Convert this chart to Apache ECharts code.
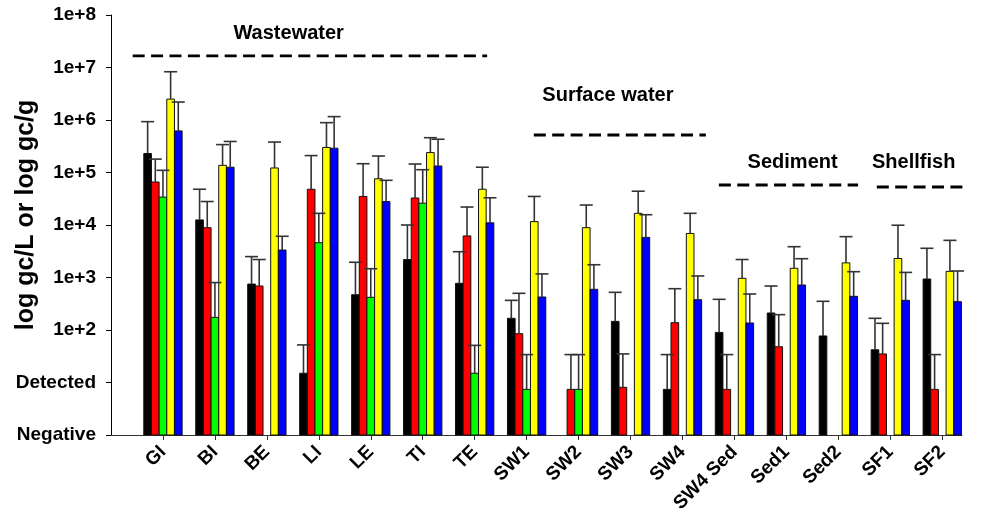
<!DOCTYPE html>
<html>
<head>
<meta charset="utf-8">
<script src="https://cdn.jsdelivr.net/npm/echarts@6/dist/echarts.min.js"></script>
<style>html,body{margin:0;padding:0;background:#fff}#c{width:986px;height:519px}</style>
</head>
<body>
<div id="c"></div>
<script>
// ---- data ----
const categories = ['GI','BI','BE','LI','LE','TI','TE','SW1','SW2','SW3','SW4','SW4 Sed','Sed1','Sed2','SF1','SF2'];
const seriesColors = ['#000000','#ff0000','#00ff00','#ffff00','#0000ff'];
const blackVals = [2.3e5,1.25e4,750,15,470,2200,775,167,null,146,7.4,90,211,77,42,936];
const blackErr  = [9.3e5,4.8e4,2500,52,1950,1.0e4,3100,367,null,522,34,384,689,352,167,3600];
const redVals   = [6.6e4,8.9e3,690,4.8e4,3.5e4,3.27e4,6.2e3,85,7.4,8.1,138,7.4,48,null,35,7.4];
const redErr    = [1.8e5,2.8e4,2200,2.1e5,1.47e5,1.45e5,2.2e4,500,34,35,612,34,196,null,134,34];
const greenVals = [3.4e4,174,null,4.6e3,419,2.6e4,15,7.4,7.4,null,null,null,null,null,null,null];
const greenErr  = [1.1e5,800,null,1.67e4,1470,1.13e5,51,34,34,null,null,null,null,null,null,null];
const yellowVals= [2.5e6,1.37e5,1.22e5,3.0e5,7.6e4,2.4e5,4.8e4,1.16e4,8.9e3,1.67e4,6.9e3,965,1.5e3,1.9e3,2.3e3,1.31e3];
const yellowErr = [8.3e6,3.4e5,3.8e5,8.9e5,2.06e5,4.6e5,1.26e5,3.5e4,2.4e4,4.4e4,1.67e4,2.2e3,3.86e3,6.0e3,9.9e3,5.1e3];
const blueVals  = [6.2e5,1.26e5,3.34e3,2.9e5,2.8e4,1.33e5,1.1e4,425,596,5.8e3,378,136,720,438,367,347];
const blueErr   = [2.2e6,3.9e5,6.1e3,1.16e6,7.1e4,4.3e5,3.3e4,1170,1750,1.57e4,1070,485,2280,1290,1250,1330];
const yTickLabels = {0:'Negative',1:'Detected',2:'1e+2',3:'1e+3',4:'1e+4',5:'1e+5',6:'1e+6',7:'1e+7',8:'1e+8'};
// annotation group labels, text anchor [x, y], dashed line [x1, x2, y]
const groupNames = ['Wastewater','Surface water','Sediment','Shellfish'];
const groupText  = [[2.42,4.35e7],[8.565,2.99e6],[12.12,1.58e5],[14.45,1.58e5]];
const groupLines = [[-0.583,6.24,1.66e7],[7.138,10.45,5.18e5],[10.70,13.38,5.78e4],[13.74,15.46,5.3e4]];

const vals = [blackVals, redVals, greenVals, yellowVals, blueVals];
const errs = [blackErr, redErr, greenErr, yellowErr, blueErr];
const BW = 0.1475;
const FONT = 'Liberation Sans, Arial, sans-serif';

function mkData(s){ return categories.map((c,i)=>[i, vals[s][i]==null?NaN:vals[s][i], errs[s][i]==null?NaN:errs[s][i]]); }

function barRender(s){
  return function(params, api){
    const x = api.value(0), v = api.value(1);
    if (isNaN(v)) return;
    const cx = x + (s-2)*BW;
    const top = api.coord([cx, v]);
    const base = api.coord([cx, 1]);
    const l = api.coord([cx-BW/2, v])[0], r = api.coord([cx+BW/2, v])[0];
    return {type:'rect', shape:{x:l, y:top[1], width:r-l, height:base[1]-top[1]},
      style:{fill:seriesColors[s], stroke:'#111', lineWidth:1}};
  };
}
function errRender(s){
  return function(params, api){
    const x = api.value(0), v = api.value(1), e = api.value(2);
    if (isNaN(v) || isNaN(e)) return;
    const cx = x + (s-2)*BW;
    const top = api.coord([cx, v]);
    const up = api.coord([cx, e]);
    const st = {stroke:'#333', lineWidth:1.6};
    return {type:'group', children:[
      {type:'line', shape:{x1:top[0], y1:top[1], x2:up[0], y2:up[1]}, style:st},
      {type:'line', shape:{x1:up[0]-6.5, y1:up[1], x2:up[0]+6.5, y2:up[1]}, style:st}
    ]};
  };
}

const series = [];
for (let s=0;s<5;s++) series.push({type:'custom', renderItem:barRender(s), data:mkData(s), encode:{x:0,y:1}, z:2, silent:true});
for (let s=0;s<5;s++) series.push({type:'custom', renderItem:errRender(s), data:mkData(s), encode:{x:0,y:[1,2]}, z:3, silent:true});
groupLines.forEach(g=>{
  series.push({type:'line', data:[[g[0],g[2]],[g[1],g[2]]], symbol:'none', clip:false, silent:true,
    lineStyle:{color:'#000', width:2.8, type:[12,6.4]}, z:4});
});
series.push({type:'custom', silent:true, clip:false, z:5,
  data: groupNames.map((n,i)=>[groupText[i][0], groupText[i][1], i]),
  encode:{x:0,y:1},
  renderItem:function(params, api){
    const p = api.coord([api.value(0), api.value(1)]);
    return {type:'text', x:p[0], y:p[1], style:{text:groupNames[api.value(2)], fill:'#000',
      font:'bold 20px ' + FONT, align:'center', verticalAlign:'middle'}};
  }});

const chart = echarts.init(document.getElementById('c'));
chart.setOption({
  animation:false,
  backgroundColor:'#fff',
  grid:{left:111, right:24, top:15, bottom:84, containLabel:false, outerBoundsMode:'none'},
  xAxis:{type:'value', min:-1, max:15.38, interval:1,
    splitLine:{show:false},
    axisLine:{show:true, onZero:false, lineStyle:{color:'#333', width:1}},
    axisTick:{show:true, length:5, lineStyle:{color:'#333'}, customValues:categories.map((c,i)=>i)},
    axisLabel:{rotate:45, margin:14, customValues:categories.map((c,i)=>i), formatter:v=>categories[Math.round(v)]||'',
      color:'#000', fontFamily:FONT, fontWeight:'bold', fontSize:19}},
  yAxis:{type:'log', logBase:10, min:1, max:1e8, interval:1,
    name:'log gc/L or log gc/g', nameLocation:'middle', nameGap:72, nameRotate:90, nameMoveOverlap:false,
    nameTextStyle:{color:'#000', fontFamily:FONT, fontWeight:'bold', fontSize:25, padding:[0,0,0,20]},
    splitLine:{show:false},
    axisLine:{show:true, onZero:false, lineStyle:{color:'#000', width:1}},
    axisTick:{show:true, length:5, lineStyle:{color:'#000'}},
    axisLabel:{margin:15, color:'#000', fontFamily:FONT, fontWeight:'bold', fontSize:19,
      formatter:v=>{const k=Math.round(Math.log10(v)); return yTickLabels[k]||'';}}},
  series: series
});
</script>
</body>
</html>
